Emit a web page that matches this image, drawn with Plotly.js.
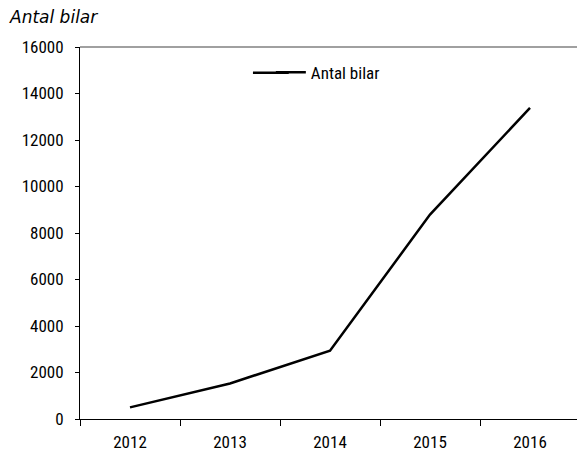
<!DOCTYPE html>
<html>
<head>
<meta charset="utf-8">
<script src="https://cdn.plot.ly/plotly-3.0.1.min.js"></script>
<style>
html,body{margin:0;padding:0;background:#fff;}
#chart{width:577px;height:454px;}
</style>
</head>
<body>
<div id="chart"></div>
<script>
var years = ["2012", "2013", "2014", "2015", "2016"];
var antalBilar = [500, 1530, 2940, 8790, 13380];
var yTicks = [0, 2000, 4000, 6000, 8000, 10000, 12000, 14000, 16000];

var narrow = "'Roboto Condensed', Roboto, sans-serif";

var trace = {
  x: years,
  y: antalBilar,
  type: "scatter",
  mode: "lines",
  name: "Antal bilar",
  line: {color: "#000000", width: 2.5}
};

var layout = {
  width: 577,
  height: 454,
  margin: {l: 80, r: 0, t: 47, b: 35},
  paper_bgcolor: "#ffffff",
  plot_bgcolor: "#ffffff",
  font: {family: narrow, size: 17, color: "#000000"},
  showlegend: true,
  legend: {
    x: 0.384, y: 0.979, xanchor: "left", yanchor: "top",
    bgcolor: "rgba(0,0,0,0)",
    font: {family: narrow, size: 17, color: "#000000"}
  },
  xaxis: {
    type: "category",
    range: [-0.5, 4.47],
    tickson: "boundaries",
    ticks: "outside",
    ticklen: 6,
    tickcolor: "#000000",
    ticklabelstandoff: 8,
    showline: true,
    linecolor: "#000000",
    linewidth: 1,
    showgrid: false,
    zeroline: false,
    tickfont: {family: narrow, size: 17, color: "#000000"}
  },
  yaxis: {
    range: [0, 16000],
    tickvals: yTicks,
    ticktext: yTicks.map(String),
    ticks: "outside",
    ticklen: 4,
    tickcolor: "#000000",
    ticklabelstandoff: 8,
    showline: true,
    linecolor: "#000000",
    linewidth: 1,
    showgrid: false,
    zeroline: false,
    tickfont: {family: narrow, size: 17, color: "#000000"}
  },
  shapes: [{
    type: "line", xref: "paper", yref: "paper",
    x0: 0, x1: 1, y0: 1, y1: 1,
    line: {color: "#808080", width: 1.5}
  }, {
    type: "line", xref: "paper", yref: "paper",
    x0: 0.348, x1: 0.42, y0: 0.931, y1: 0.931,
    line: {color: "#000000", width: 2.5}
  }],
  annotations: [{
    text: "<i>Antal bilar</i>",
    xref: "paper", yref: "paper",
    x: -0.146, y: 1.0, xanchor: "left", yanchor: "bottom",
    yshift: 18,
    showarrow: false,
    font: {family: "'DejaVu Sans', sans-serif", size: 17, color: "#000000"}
  }]
};

Plotly.newPlot("chart", [trace], layout, {displayModeBar: false, staticPlot: true});
</script>
</body>
</html>
